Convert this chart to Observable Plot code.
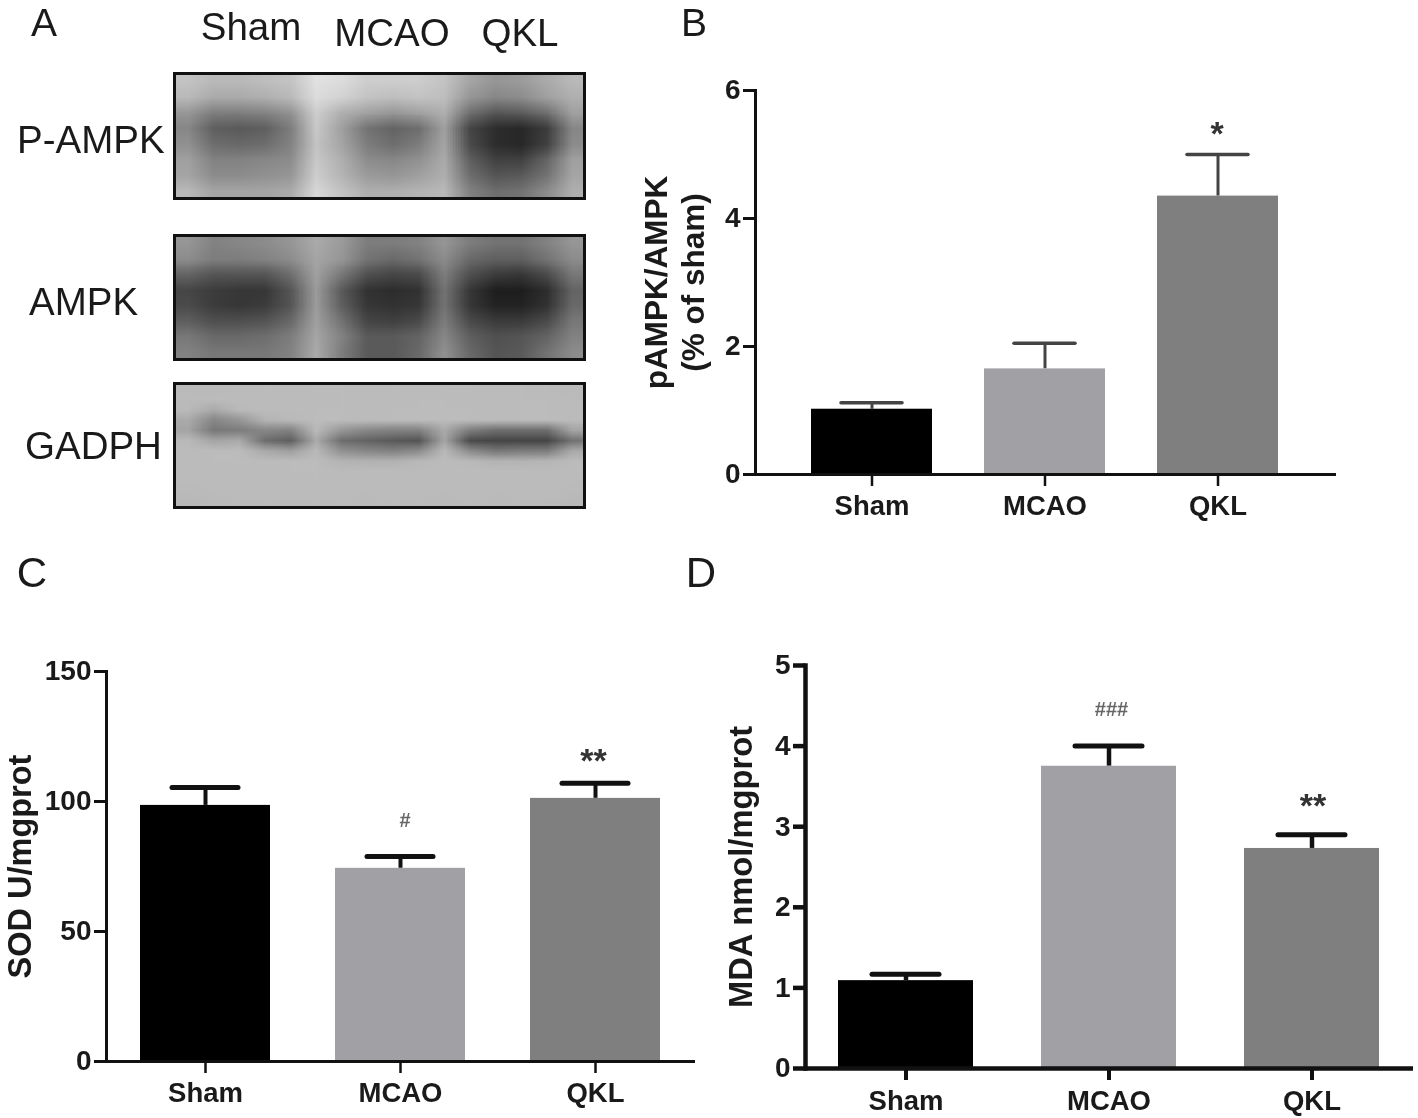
<!DOCTYPE html>
<html>
<head>
<meta charset="utf-8">
<script src="https://cdn.jsdelivr.net/npm/d3@7"></script>
<script src="https://cdn.jsdelivr.net/npm/@observablehq/plot@0.6"></script>
<style>
  html, body { margin: 0; padding: 0; background: #fff; }
  #fig { position: relative; width: 1418px; height: 1118px; overflow: hidden; font-family: "Liberation Sans", Arial, sans-serif; }
  #fig svg { filter: blur(0.55px); }
  .lab { position: absolute; line-height: 1; white-space: nowrap; color: #1a1a1a; filter: blur(0.4px); }
</style>
</head>
<body>
<div id="fig"></div>
<script>
// ---- shared categories and colours
const groups = ["Sham", "MCAO", "QKL"];
const barColors = ["#000000", "#a1a0a4", "#7f7f7f"];

// ---- panel B
const pampkMean = [1.02, 1.65, 4.35];
const pampkErr = [1.12, 2.05, 5.0];
const pampkMarks = ["", "", "*"];
const pampkMarkY = [0, 0, 5.32];
const pampkMarkDx = [0, 0, -1];
const pampkTicks = [0, 2, 4, 6];
// ---- panel C
const sodMean = [98.5, 74.3, 101.2];
const sodErr = [105.4, 78.8, 107];
const sodMarks = ["", "#", "**"];
const sodMarkY = [0, 92.7, 115.7];
const sodMarkDx = [0, 4.5, -2];
const sodTicks = [0, 50, 100, 150];
// ---- panel D
const mdaMean = [1.09, 3.75, 2.73];
const mdaErr = [1.17, 4.0, 2.9];
const mdaMarks = ["", "###", "**"];
const mdaMarkY = [0, 4.454, 3.25];
const mdaMarkDx = [0, 2.5, 1];
const mdaTicks = [0, 1, 2, 3, 4, 5];

// ---- panel A: grey levels of the three blots, read row by row (16 columns)
const pAmpkGrey = [
  195,185,185,190,195,225,220,205,205,205,195,165,150,155,170,185,
  185,170,170,175,185,220,210,195,190,195,190,150,135,140,160,175,
  150,125,125,130,145,205,175,160,150,160,175,110,85,90,110,160,
  135,95,90,95,125,200,160,115,100,110,160,70,45,40,60,135,
  145,110,105,110,130,195,165,125,110,125,165,75,45,40,65,140,
  160,130,130,135,140,200,175,140,135,145,170,95,65,65,100,160,
  165,140,140,145,150,205,180,155,150,160,175,110,85,90,115,165,
  185,165,165,165,170,215,195,175,175,180,185,130,110,115,140,175
];
const ampkGrey = [
  150,130,135,140,150,170,155,125,125,130,150,125,115,115,130,150,
  140,125,125,130,140,165,150,115,105,115,140,105,95,95,115,140,
  100,85,85,85,110,160,120,80,70,75,125,80,60,55,75,120,
  70,60,55,55,85,155,90,50,45,50,115,55,30,30,45,100,
  75,60,55,60,85,155,95,55,50,55,115,55,35,35,50,105,
  95,80,80,85,105,160,115,70,65,75,125,75,60,60,75,120,
  120,105,105,110,125,165,130,90,90,100,135,95,80,85,100,130,
  130,120,120,120,130,170,125,90,90,105,145,105,85,90,115,140
];
const gadphGrey = [
  186,186,187,188,187,188,188,187,188,187,188,188,187,188,187,186,
  187,188,188,187,188,187,188,188,187,188,188,187,188,188,188,187,
  186,170,186,188,188,188,188,187,188,188,188,188,187,188,188,187,
  170,135,150,180,185,188,188,188,188,188,188,188,188,188,188,187,
  165,120,125,135,130,185,150,135,130,130,170,125,110,110,110,165,
  185,165,170,110,95,170,110,100,90,85,165,75,70,70,70,115,
  188,188,188,170,160,185,145,135,130,140,185,140,120,125,125,170,
  187,188,188,188,188,188,180,178,178,185,188,185,180,180,182,187,
  188,187,188,187,188,188,187,188,188,187,188,188,188,188,187,188,
  187,188,187,188,187,188,188,188,187,188,188,187,188,187,188,187,
  186,187,188,188,188,187,188,187,188,188,187,188,187,188,188,186,
  184,186,186,187,186,187,186,186,187,186,186,187,186,186,186,184
];
const blotColumns = 16;

const fig = document.getElementById("fig");

function label(text, cx, cy, size, anchor) {
  const d = document.createElement("div");
  d.className = "lab";
  d.textContent = text;
  d.style.fontSize = size + "px";
  d.style.top = (cy - size * 0.488) + "px";
  d.style.left = cx + "px";
  if (anchor === "middle") d.style.transform = "translateX(-50%)";
  fig.appendChild(d);
}

function blot(grey, left, top, width, height) {
  const rows = grey.length / blotColumns;
  fig.appendChild(Plot.plot({
    width, height, margin: 2,
    style: { position: "absolute", left: left + "px", top: top + "px", background: "transparent" },
    x: { domain: [0, blotColumns], axis: null },
    y: { domain: [0, rows], reverse: true, axis: null },
    color: { type: "linear", domain: [0, 255], range: ["#000000", "#ffffff"] },
    marks: [
      Plot.raster(grey, { width: blotColumns, height: rows, x1: 0, x2: blotColumns, y1: 0, y2: rows, fill: d => d, imageRendering: "auto" }),
      Plot.frame({ stroke: "#111", strokeWidth: 3 })
    ]
  }));
}

function barPanel(o) {
  const rows = groups.map((g, i) => ({ group: g, mean: o.mean[i], err: o.err[i], mark: o.marks[i], markY: o.markY[i], markDx: o.markDx[i] }));
  fig.appendChild(Plot.plot({
    width: o.width, height: o.height,
    marginLeft: o.marginLeft, marginTop: o.marginTop, marginBottom: o.marginBottom, marginRight: 0,
    style: { position: "absolute", left: o.left + "px", top: o.top + "px", background: "transparent",
             fontFamily: "'Liberation Sans', Arial, sans-serif", fontWeight: "bold", color: "#1a1a1a" },
    x: { domain: groups, range: o.band, paddingInner: o.paddingInner, paddingOuter: 0, label: null },
    y: { domain: o.domain, label: null },
    color: { domain: groups, range: barColors },
    marks: [
      Plot.axisY({ ticks: o.ticks, tickFormat: d => `${d}`, tickSize: 12, tickPadding: 3, fontSize: 28, label: null, strokeWidth: o.line, stroke: "#111" }),
      Plot.axisX({ tickSize: 12, tickPadding: o.xPad, fontSize: 27.5, label: null, strokeWidth: o.line - 0.5, stroke: "#111" }),
      Plot.ruleX(rows, { x: "group", y1: "mean", y2: "err", stroke: o.errColor, strokeWidth: o.stem }),
      Plot.tickY(rows, { x: "group", y: "err", stroke: o.errColor, strokeWidth: o.cap, strokeLinecap: "round", insetLeft: o.capInset, insetRight: o.capInset }),
      Plot.barY(rows, { x: "group", y: "mean", fill: "group" }),
      Plot.frame({ anchor: "left", stroke: "#111", strokeWidth: o.line }),
      Plot.ruleY([0], { stroke: "#111", strokeWidth: o.line }),
      ...rows.filter(r => r.mark).map(r => Plot.text([r], {
        x: "group", y: "markY", text: "mark", dx: r.markDx,
        fontSize: r.mark.startsWith("#") ? 20 : 34,
        fill: r.mark.startsWith("#") ? "#666" : "#333"
      })),
      Plot.text([o.title], { frameAnchor: "left", dx: o.titleDx, rotate: -90, text: d => d, textAnchor: "middle", fontSize: o.titleSize, lineHeight: 1.2, fill: "#1a1a1a" })
    ]
  }));
}

// panel A
blot(pAmpkGrey, 172, 71, 414, 129);
blot(ampkGrey, 172, 233, 414, 128);
blot(gadphGrey, 172, 381, 414, 128);
label("A", 44, 22, 39, "middle");
label("Sham", 251, 27, 38.5, "middle");
label("MCAO", 392, 33, 38.5, "middle");
label("QKL", 520, 33, 38.5, "middle");
label("P-AMPK", 17, 140, 38.5);
label("AMPK", 29, 302, 38.5);
label("GADPH", 25, 446, 38.5);

// panel B
label("B", 694, 22, 39, "middle");
barPanel({ mean: pampkMean, err: pampkErr, marks: pampkMarks, markY: pampkMarkY, markDx: pampkMarkDx, ticks: pampkTicks, domain: [0, 6],
  left: 600, top: 60, width: 736, height: 474, marginLeft: 155, marginTop: 30, marginBottom: 60,
  band: [211, 679], paddingInner: 0.3, line: 3, stem: 3, cap: 3.5, capInset: 30, errColor: "#444", xPad: 9,
  title: "pAMPK/AMPK\n(% of sham)", titleDx: -82, titleSize: 31.5 });

// panel C
label("C", 32, 572, 42, "middle");
barPanel({ mean: sodMean, err: sodErr, marks: sodMarks, markY: sodMarkY, markDx: sodMarkDx, ticks: sodTicks, domain: [0, 150],
  left: 0, top: 640, width: 695, height: 478, marginLeft: 106, marginTop: 31, marginBottom: 57,
  band: [140, 660], paddingInner: 0.334, line: 3, stem: 4, cap: 5, capInset: 32, errColor: "#111", xPad: 9,
  title: "SOD U/mgprot", titleDx: -88, titleSize: 32.5 });

// panel D
label("D", 701, 572, 42, "middle");
barPanel({ mean: mdaMean, err: mdaErr, marks: mdaMarks, markY: mdaMarkY, markDx: mdaMarkDx, ticks: mdaTicks, domain: [0, 5],
  left: 700, top: 630, width: 713, height: 488, marginLeft: 105, marginTop: 35, marginBottom: 50,
  band: [138, 679], paddingInner: 0.335, line: 4.5, stem: 4.5, cap: 5, capInset: 34, errColor: "#111", xPad: 10,
  title: "MDA nmol/mgprot", titleDx: -66, titleSize: 32.7 });
</script>
</body>
</html>
